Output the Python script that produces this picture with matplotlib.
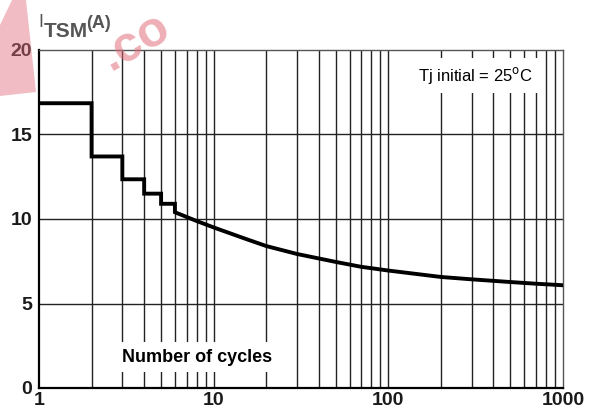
import matplotlib
matplotlib.use("Agg")
import matplotlib.pyplot as plt
import numpy as np

# step part (cycles 1..6) and smooth part (6..1000)
step_edges = [1, 2, 3, 4, 5, 6]
step_vals = [16.85, 13.7, 12.35, 11.5, 10.9]
curve_n = [6, 7, 8, 10, 15, 20, 30, 50, 70, 100, 200, 300, 500, 700, 1000]
curve_i = [10.4, 10.12, 9.88, 9.5, 8.85, 8.4, 7.93, 7.46, 7.17, 6.95, 6.57, 6.43, 6.27, 6.17, 6.08]

yticks = [0, 5, 10, 15, 20]
xticks = [1, 10, 100, 1000]
xtick_labels = ["1", "10", "100", "1000"]
vgrid = [k * 10 ** d for d in range(3) for k in range(2, 10)] + [10, 100]

plt.rcParams["font.family"] = ["Liberation Sans", "DejaVu Sans"]

fig = plt.figure(figsize=(5.95, 4.17), dpi=100)
W, H = 595.0, 417.0

# watermark remnants
fig.text(135 / W, 1 - 42 / H, ".co", fontsize=36, fontweight="bold",
         color="#e06c7a", alpha=0.55, rotation=30, ha="center", va="center",
         zorder=0)
fig.patches.append(plt.Polygon([(0, 1 - 25 / H), (12 / W, 1), (26 / W, 1),
                                (36 / W, 1 - 92 / H), (0, 1 - 96 / H)],
                               closed=True, transform=fig.transFigure,
                               fc="#e06c7a", alpha=0.45, ec="none", zorder=0))

ax = fig.add_axes([39 / W, 1 - 388 / H, (563 - 39) / W, (388 - 50) / H])
ax.set_facecolor("none")
ax.set_xscale("log")
ax.set_xlim(1, 1000)
ax.set_ylim(0, 20)

for x in vgrid:
    ax.axvline(x, color="#222222", lw=1.0, zorder=1)
for y in yticks[1:-1]:
    ax.axhline(y, color="#222222", lw=1.0, zorder=1)

# step curve joined to the smooth part
xs, ys = [], []
for i, v in enumerate(step_vals):
    xs += [step_edges[i], step_edges[i + 1]]
    ys += [v, v]
xs += curve_n
ys += curve_i
ax.plot(xs, ys, color="black", lw=2.8, solid_joinstyle="miter", zorder=3)

ax.text(197 / W, 1 - 357 / H, "Number of cycles", transform=fig.transFigure,
        fontsize=13, fontweight="bold", ha="center", va="center", zorder=4,
        bbox=dict(fc="white", ec="none", pad=5))
ax.text(475 / W, 1 - 75 / H, r"Tj initial = 25$^{\rm o}$C",
        transform=fig.transFigure, fontsize=12, ha="center", va="center",
        zorder=4, bbox=dict(fc="white", ec="none", pad=5))

ax.set_xticks(xticks)
ax.set_xticklabels(xtick_labels)
ax.xaxis.set_minor_locator(plt.NullLocator())
ax.set_yticks(yticks)
ax.tick_params(length=0, labelsize=14)
for lab in ax.get_xticklabels() + ax.get_yticklabels():
    lab.set_fontweight("bold")
    lab.set_color("#1a1a1a")
ax.tick_params(axis="x", pad=3)
ax.tick_params(axis="y", pad=5)

for s in ["left", "bottom"]:
    ax.spines[s].set_linewidth(1.6)
    ax.spines[s].set_color("black")
for s in ["top", "right"]:
    ax.spines[s].set_linewidth(1.0)
    ax.spines[s].set_color("#555555")

# y axis title I_TSM(A)
fig.text(38 / W, 1 - 27 / H, "I", fontsize=13, color="#555555", ha="left",
         va="baseline")
fig.text(44 / W, 1 - 37 / H, "TSM", fontsize=15, fontweight="bold",
         color="#555555", ha="left", va="baseline")
fig.text(86 / W, 1 - 28 / H, "(A)", fontsize=13, fontweight="bold",
         color="#555555", ha="left", va="baseline")

fig.savefig("out.png", dpi=100)
